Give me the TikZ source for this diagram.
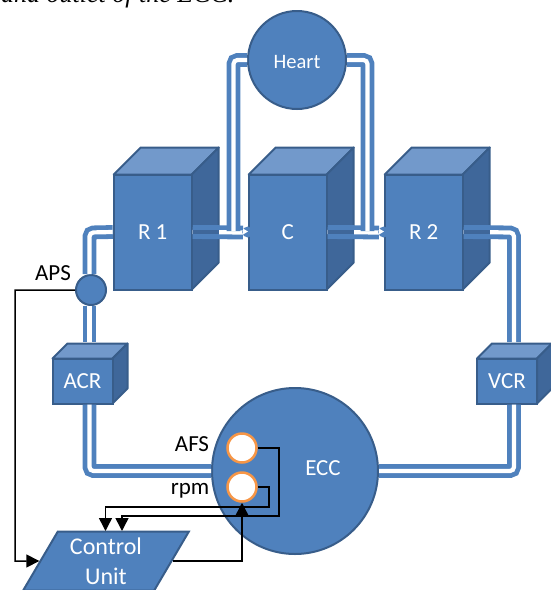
\documentclass[tikz,border=0pt]{standalone}
\usepackage{fontspec}
\setmainfont{Carlito}
\newfontfamily\capfont{Liberation Serif}
\usetikzlibrary{arrows.meta,shapes.geometric}
\definecolor{blockblue}{HTML}{4F81BD}
\definecolor{edgeblue}{HTML}{385D8A}
\definecolor{topblue}{HTML}{7299CB}
\definecolor{sideblue}{HTML}{3F679A}
\definecolor{sensororange}{HTML}{F79646}
\tikzset{
  block/.style={draw=edgeblue,line width=2pt,fill=blockblue,text=white,font=\fontsize{23}{28}\selectfont,inner sep=0pt},
  pipe/.style={draw=blockblue,line width=4.8pt,double=white,double distance=4.2pt,rounded corners=4pt},
  pipeside/.style={pipe,double=sideblue},
  sensor/.style={circle,draw=sensororange,line width=2.5pt,fill=white,minimum size=29pt,inner sep=0pt},
  signal/.style={draw=black,line width=1.5pt,-{Triangle[length=13pt,width=13pt]}},
  tag/.style={text=black,font=\fontsize{23}{28}\selectfont,inner sep=0pt}
}
% front face is the node, top and side are drawn behind it
\newcommand{\cuboid}[7]{%
  \fill[topblue,draw=edgeblue,line width=2pt,line join=round] (#2-#4/2,#3-#5/2) -- ++(#6,-#6) -- ++(#4,0) -- ++(-#6,#6) -- cycle;
  \fill[sideblue,draw=edgeblue,line width=2pt,line join=round] (#2+#4/2,#3-#5/2) -- ++(#6,-#6) -- ++(0,#5) -- ++(-#6,#6) -- cycle;
  \node[block,minimum width=#4pt,minimum height=#5pt] (#1) at (#2,#3) {#7};
  \coordinate (#1side) at (#2+#4/2+#6,#3);
}
\begin{document}
\begin{tikzpicture}[x=1pt,y=-1pt]
  \useasboundingbox (0,0) rectangle (551,590);
  \begin{scope}
    \clip (0,0) rectangle (551,590);
    \node[anchor=base west,inner sep=0pt,font=\capfont\itshape\fontsize{26}{28}\selectfont] (caption) at (1,2.5) {and outlet of the ECC.};

    \cuboid{rone}{152.7}{232}{78}{115}{27}{R 1}
    \cuboid{cbox}{287.7}{232}{78}{115}{27}{C}
    \cuboid{rtwo}{423.7}{232}{78}{115}{27}{R 2}
    \cuboid{acr}{82.5}{381}{60}{45}{15}{ACR}
    \cuboid{vcr}{507}{381}{60}{45}{15}{VCR}

    \node[block,circle,minimum size=98pt] (heart) at (297,60) {};
    \node[text=white,font=\fontsize{20.5}{24}\selectfont,inner sep=0pt] (heartlabel) at (297,62) {Heart};
    \node[block,circle,minimum size=166pt] (ecc) at (295,471) {};
    \node[text=white,font=\fontsize{23}{28}\selectfont,inner sep=0pt] (ecclabel) at (323,468) {ECC};
    \node[block,circle,minimum size=30pt] (aps) at (91,290) {};
    \node[block,trapezium,trapezium stretches=true,trapezium left angle=61,trapezium right angle=119,minimum width=166pt,minimum height=59pt,align=center,font=\fontsize{24}{30}\selectfont] (cu) at (106,561) {Control\\Unit};

    \node[sensor] (afs) at (242,448) {};
    \node[sensor] (rpm) at (242,487) {};

    \coordinate (jointl) at (233.5,231);
    \coordinate (jointr) at (367.5,231);
    \coordinate (endc) at (243,232.5);
    \coordinate (endr) at (379,232.5);
    \coordinate (bendaps) at (89.5,232.5);
    \coordinate (bendvcr) at (514,232.5);
    \coordinate (topacr) at (89.5,342);
    \coordinate (topvcr) at (514,342);
    \coordinate (bendacr) at (89.5,471);
    \coordinate (bendecc) at (514,471);
    \coordinate (apsdrop) at (15,561);
    \coordinate (cutopa) at (122,531);
    \coordinate (cutopb) at (105.5,531);
    \coordinate (afsdrop) at (279,516);
    \coordinate (rpmdrop) at (269,507);

    % pipes
    \draw[pipe] (rone.east) -- (endc);
    \draw[pipeside] (rone.east) -- (roneside);
    \draw[pipe] (cbox.east) -- (endr);
    \draw[pipeside] (cbox.east) -- (cboxside);
    \draw[pipe] (heart.west) -| (jointl);
    \draw[pipe] (heart.east) -| (jointr);
    \draw[pipe] (rone.west) -- (bendaps) -- (aps.north -| bendaps);
    \draw[pipe] (aps.south -| bendaps) -- (topacr);
    \draw[pipe] (acr.south -| bendacr) -- (bendacr) -- (ecc.west |- bendacr);
    \draw[pipe] (rtwo.east) -- (bendvcr) -- (topvcr);
    \draw[pipeside] (rtwo.east) -- (rtwoside);
    \draw[pipe] (vcr.south -| bendecc) -- (bendecc) -- (ecc.east |- bendecc);

    % pipe ends at the boxes
    \fill[blockblue] (cbox.west) circle (5.5pt);
    \fill[blockblue] (rtwo.west) circle (5.5pt);
    \fill[white] (243,228.5) -- (248,231.5) -- (243,234.5) -- cycle;
    \fill[white] (379,228.5) -- (384,231.5) -- (379,234.5) -- cycle;

    % signals
    \draw[signal] (aps.west) -| (apsdrop) -- (cu.west);
    \draw[signal] (afs.east) -| (afsdrop) -| (cutopa);
    \draw[signal] (rpm.east) -| (rpmdrop) -| (cutopb);
    \draw[signal] (cu.east) -| (rpm.south);

    \node[tag] (apslabel) at (53,273) {APS};
    \node[tag] (afslabel) at (192,444) {AFS};
    \node[tag] (rpmlabel) at (190,491) {rpm};
  \end{scope}
\end{tikzpicture}
\end{document}
